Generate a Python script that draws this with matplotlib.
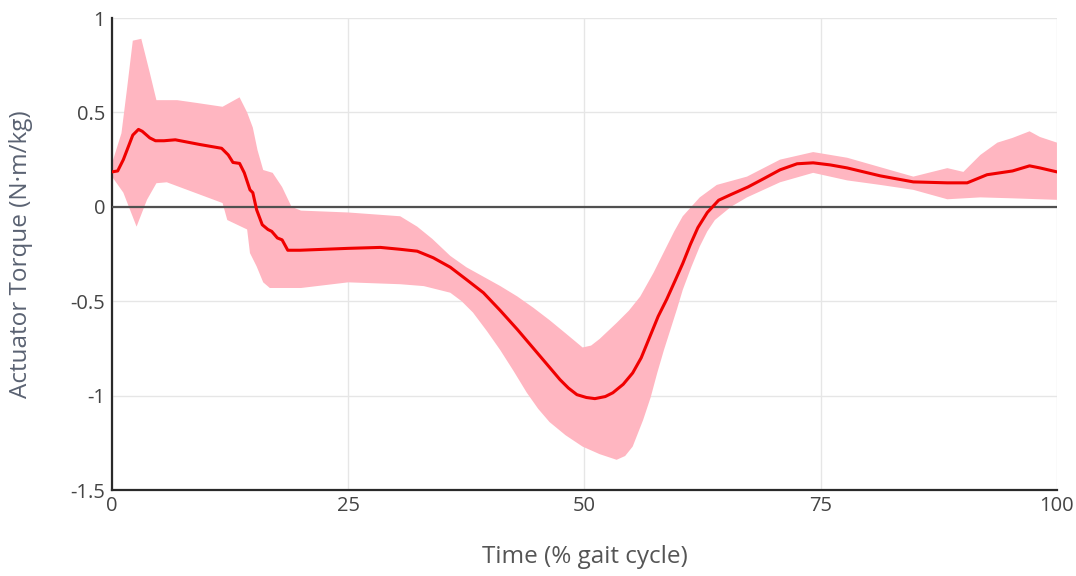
import numpy as np
import matplotlib
matplotlib.use("Agg")
import matplotlib.pyplot as plt

plt.rcParams["font.family"] = ["Open Sans", "DejaVu Sans"]
plt.rcParams["axes.unicode_minus"] = False

# Mean actuator torque over the gait cycle
mean_x = [0, 0.6, 1.2, 2.2, 2.8, 3.2, 4.0, 4.6, 5.5, 6.7, 9.3, 11.6, 12.3, 12.8,
          13.5, 14.0, 14.6, 14.9, 15.3, 15.9, 16.5, 16.9, 17.5, 18.0, 18.6, 19.9,
          25.0, 28.4, 30.5, 32.3, 34.0, 35.8, 37.5, 39.3, 41.1, 42.9, 44.6, 46.3,
          47.4, 48.3, 49.2, 50.2, 51.1, 52.2, 53.0, 54.1, 55.1, 56.0, 56.9, 57.8,
          58.7, 59.6, 60.4, 61.2, 62.0, 63.0, 64.2, 65.5, 67.3, 69.0, 70.7, 72.5,
          74.2, 76.0, 77.8, 81.3, 84.8, 88.4, 90.5, 92.6, 95.3, 97.1, 98.2, 100]
mean_y = [0.185, 0.19, 0.25, 0.38, 0.41, 0.40, 0.365, 0.35, 0.35, 0.355, 0.33,
          0.31, 0.275, 0.235, 0.23, 0.18, 0.09, 0.075, -0.015, -0.095, -0.12,
          -0.13, -0.165, -0.175, -0.23, -0.23, -0.22, -0.215, -0.225, -0.235,
          -0.27, -0.32, -0.385, -0.455, -0.55, -0.65, -0.75, -0.85, -0.915,
          -0.96, -0.995, -1.01, -1.016, -1.005, -0.985, -0.94, -0.88, -0.80,
          -0.69, -0.58, -0.49, -0.39, -0.30, -0.20, -0.11, -0.03, 0.035, 0.065,
          0.105, 0.15, 0.196, 0.228, 0.233, 0.222, 0.206, 0.164, 0.132, 0.127,
          0.127, 0.17, 0.19, 0.217, 0.206, 0.185]

# Upper edge of the spread band
upper_x = [0, 1.0, 1.6, 2.2, 3.1, 4.0, 4.7, 6.9, 9.0, 11.7, 13.5, 14.3, 14.9,
           15.4, 16.0, 17.0, 18.0, 19.0, 20.0, 25.0, 30.5, 32.3, 33.9, 35.8,
           37.5, 39.3, 41.1, 42.9, 44.6, 46.3, 48.0, 49.8, 50.7, 51.6, 53.4,
           54.7, 55.9, 57.3, 58.7, 59.5, 60.4, 61.3, 62.2, 64.0, 67.2, 70.7,
           74.2, 77.8, 81.3, 84.8, 88.4, 90.1, 91.9, 93.7, 95.3, 97.1, 98.2, 100]
upper_y = [0.23, 0.39, 0.63, 0.88, 0.89, 0.71, 0.565, 0.565, 0.55, 0.53, 0.58,
           0.50, 0.42, 0.30, 0.195, 0.18, 0.105, 0.0, -0.02, -0.03, -0.05,
           -0.105, -0.17, -0.26, -0.32, -0.37, -0.42, -0.475, -0.535, -0.60,
           -0.67, -0.745, -0.735, -0.70, -0.615, -0.55, -0.475, -0.35, -0.21,
           -0.13, -0.05, 0.0, 0.05, 0.116, 0.16, 0.25, 0.29, 0.26, 0.21, 0.16,
           0.205, 0.185, 0.275, 0.34, 0.365, 0.40, 0.37, 0.34]

# Lower edge of the spread band
lower_x = [0, 1.2, 2.6, 3.7, 4.7, 5.8, 11.7, 12.2, 14.3, 14.6, 15.3, 16.0, 16.7,
           20.0, 25.0, 30.5, 33.0, 35.8, 37.0, 38.2, 39.7, 41.1, 42.5, 43.9,
           45.1, 46.3, 48.0, 49.8, 51.6, 53.4, 54.3, 55.1, 56.2, 57.0, 57.7,
           58.4, 59.1, 59.8, 60.4, 61.3, 62.2, 63.0, 63.8, 65.5, 67.2, 70.7,
           74.2, 77.8, 81.3, 84.8, 88.4, 91.9, 95.3, 100]
lower_y = [0.16, 0.075, -0.105, 0.037, 0.125, 0.13, 0.02, -0.07, -0.12, -0.245,
           -0.315, -0.40, -0.43, -0.43, -0.40, -0.41, -0.42, -0.455, -0.50,
           -0.56, -0.66, -0.76, -0.87, -0.985, -1.07, -1.14, -1.21, -1.27,
           -1.31, -1.34, -1.32, -1.27, -1.13, -1.01, -0.88, -0.76, -0.65, -0.54,
           -0.44, -0.32, -0.21, -0.13, -0.07, 0.0, 0.05, 0.13, 0.18, 0.14, 0.116,
           0.09, 0.04, 0.05, 0.045, 0.037]

x_ticks = [0, 25, 50, 75, 100]
y_ticks = [-1.5, -1, -0.5, 0, 0.5, 1]
y_tick_labels = ["-1.5", "-1", "-0.5", "0", "0.5", "1"]

fig = plt.figure(figsize=(10.76, 5.76), dpi=100)
ax = fig.add_axes([0.1041, 0.1493, 0.8782, 0.8194])

band_x = np.concatenate([upper_x, lower_x[::-1]])
band_y = np.concatenate([upper_y, lower_y[::-1]])
ax.fill(band_x, band_y, color="#ffb6c1", linewidth=0, zorder=2)
ax.plot(mean_x, mean_y, color="#f00000", linewidth=2.2, zorder=4,
        solid_joinstyle="round")

ax.axhline(0, color="#505050", linewidth=1.6, zorder=3)

ax.set_xlim(0, 100)
ax.set_ylim(-1.5, 1)
ax.set_xticks(x_ticks)
ax.set_xticklabels([str(v) for v in x_ticks])
ax.set_yticks(y_ticks)
ax.set_yticklabels(y_tick_labels)

ax.grid(True, color="#e6e6e6", linewidth=1.0, zorder=0)
ax.set_axisbelow(True)

for side in ("top", "right"):
    ax.spines[side].set_visible(False)
for side in ("left", "bottom"):
    ax.spines[side].set_color("#2a2a2a")
    ax.spines[side].set_linewidth(1.6)

ax.tick_params(axis="x", length=0, labelsize=14.5, colors="#444444", pad=4)
ax.tick_params(axis="y", length=0, labelsize=14.5, colors="#444444", pad=5)
ax.set_xlabel("Time (% gait cycle)", fontsize=17.5, color="#555555", labelpad=21)
ax.set_ylabel("Actuator Torque (N·m/kg)", fontsize=17.5, color="#5a6272", labelpad=27)

fig.savefig("out.png", dpi=100)
